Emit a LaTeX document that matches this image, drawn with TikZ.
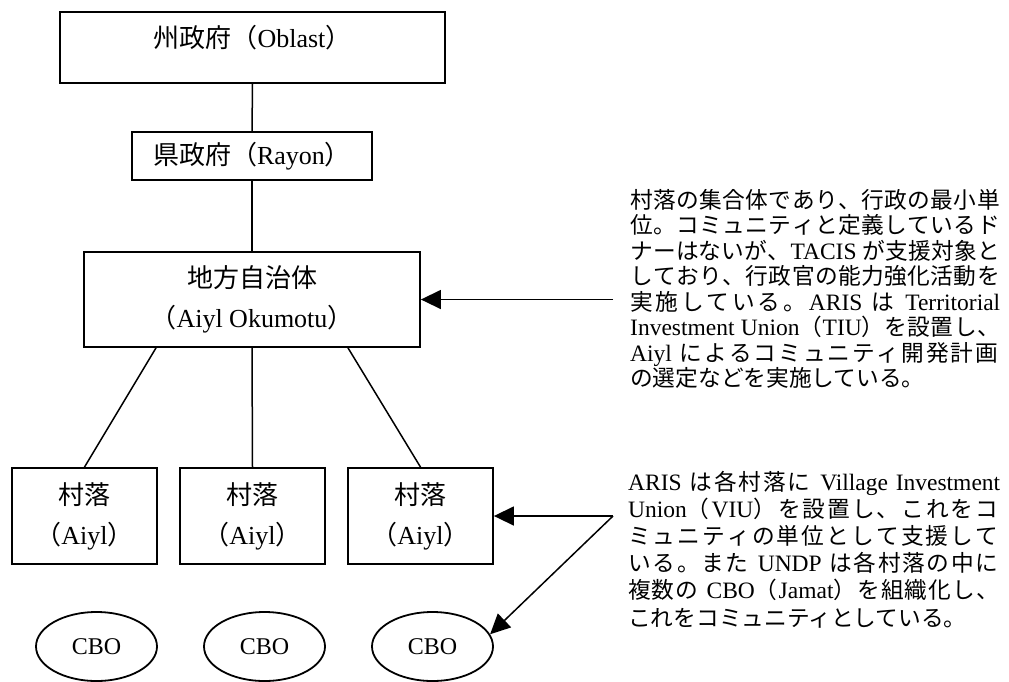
\documentclass[tikz,border=0pt]{standalone}
\usepackage{fontspec}
\setmainfont{Liberation Serif}
\newfontfamily\jpfont{Noto Sans CJK JP}
\newfontfamily\jpfontL[Scale=0.966]{Noto Sans CJK JP}
\usetikzlibrary{arrows.meta,shapes.geometric}

\def\spreadloop#1{\ifx#1\relax\else#1\hskip0pt plus 3pt\relax\expandafter\spreadloop\fi}
\newcommand\J[1]{{\jpfont #1}}
\newcommand\JS[1]{{\jpfont\spreadloop#1\relax}}
\newlength\blockwd
\newcommand\jl[1]{\hbox to \blockwd{#1}}
\newcommand\jlast[1]{\hbox{#1}}

\tikzset{
  box/.style={draw, line width=1.8pt, inner sep=0pt, align=center,
    font=\fontsize{26}{40}\selectfont},
  cbo/.style={draw, ellipse, line width=1.8pt, inner sep=0pt,
    minimum width=121pt, minimum height=69pt, font=\fontsize{24}{28}\selectfont},
  conn/.style={line width=1.5pt},
  arr/.style={line width=1.5pt, -{Triangle[length=20pt,width=19pt]}},
  textblock/.style={inner sep=0pt, anchor=base west,
    font=\fontsize{23.5}{25.5}\selectfont\let\jpfont\jpfontL}
}

\begin{document}
\begin{tikzpicture}[x=1pt,y=-1pt]
\useasboundingbox (0,0) rectangle (1009,681);

% boxes
\node[box, minimum width=385pt, minimum height=71pt] (oblast) at (252.5,47.5)
  {\raisebox{22pt}{\J{州政府（}Oblast\J{）}}};
\node[box, minimum width=240pt, minimum height=48pt] (rayon) at (252,156)
  {\J{県政府（}Rayon\J{）}};
\node[box, minimum width=336pt, minimum height=95pt] (okumotu) at (252,299.5)
  {\J{地方自治体}\\\J{（}Aiyl Okumotu\J{）}};

\node[box, minimum width=145pt, minimum height=96pt] (v1) at (84.5,516)
  {\J{村落}\\\J{（}Aiyl\J{）}};
\node[box, minimum width=145pt, minimum height=96pt] (v2) at (252.5,516)
  {\J{村落}\\\J{（}Aiyl\J{）}};
\node[box, minimum width=145pt, minimum height=96pt] (v3) at (420.5,516)
  {\J{村落}\\\J{（}Aiyl\J{）}};

\node[cbo] (c1) at (96.5,646.5) {CBO};
\node[cbo] (c2) at (264.5,646.5) {CBO};
\node[cbo] (c3) at (432.5,646.5) {CBO};

% tree lines
\draw[conn] (oblast.south) -- (rayon.north);
\draw[conn] (rayon.south) -- (okumotu.north);
\draw[conn] ([xshift=-96pt]okumotu.south) -- (v1.north);
\draw[conn] (okumotu.south) -- (v2.north);
\draw[conn] ([xshift=96pt]okumotu.south) -- (v3.north);

% text blocks
\node[textblock] (t1) at (630,208) {\setlength\blockwd{370pt}\vtop{\baselineskip=25.5pt\lineskiplimit=-1000pt
  \jl{\JS{村落の集合体であり、行政の最小単}}
  \jl{\JS{位。コミュニティと定義しているド}}
  \jl{\JS{ナーはないが、}TACIS \JS{が支援対象と}}
  \jl{\JS{しており、行政官の能力強化活動を}}
  \jl{\JS{実施している。}ARIS \JS{は} Territorial}
  \jl{Investment Union\JS{（}TIU\JS{）を設置し、}}
  \jl{Aiyl \JS{によるコミュニティ開発計画}}
  \jlast{\J{の選定などを実施している。}}}};

\node[textblock] (t2) at (628,490) {\setlength\blockwd{372pt}\vtop{\baselineskip=27.2pt\lineskiplimit=-1000pt
  \jl{ARIS \JS{は各村落に} Village Investment}
  \jl{Union\JS{（}VIU\JS{）を設置し、これをコ}}
  \jl{\JS{ミュニティの単位として支援して}}
  \jl{\JS{いる。また} UNDP \JS{は各村落の中に}}
  \jl{\JS{複数の} CBO\JS{（}Jamat\JS{）を組織化し、}}
  \jlast{\J{これをコミュニティとしている。}}}};

% arrows
\coordinate (s1) at (613,299.5);
\coordinate (s2) at (613,516);
\draw[arr] (s1) -- (okumotu.east);
\draw[arr] (s2) -- (v3.east);
\draw[arr] (s2) -- (c3.12);
\end{tikzpicture}
\end{document}
